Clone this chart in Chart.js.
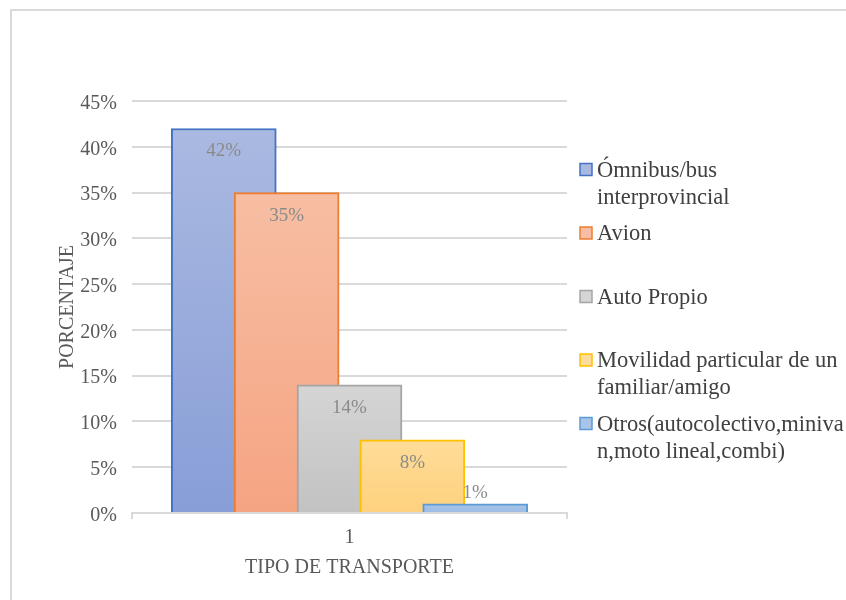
<!DOCTYPE html>
<html lang="es">
<head>
    <meta charset="UTF-8">
    <title>Tipo de transporte</title>
    <script src="https://cdn.jsdelivr.net/npm/chart.js@4/dist/chart.umd.min.js"></script>
    <style>
        body {
            margin: 0;
            background: white;
        }
        .chart-box {
            position: relative;
            width: 846px;
            height: 600px;
        }
    </style>
</head>
<body>
    <div class="chart-box">
        <canvas id="transportChart" width="846" height="600"></canvas>
    </div>

    <script>
        // data
        const categories = [
            ['Ómnibus/bus', 'interprovincial'],
            ['Avion'],
            ['Auto Propio'],
            ['Movilidad particular de un', 'familiar/amigo'],
            ['Otros(autocolectivo,miniva', 'n,moto lineal,combi)']
        ];
        const values = [42, 35, 14, 8, 1];
        const xTickLabels = ['1'];
        const yTitle = 'PORCENTAJE';
        const xTitle = 'TIPO DE TRANSPORTE';

        const serif = '"Liberation Serif", "Times New Roman", serif';
        const borderColors = ['#4472c4', '#ed7d31', '#a5a5a5', '#ffc000', '#5b9bd5'];
        const topColors = ['#aab9e1', '#f7bea3', '#d5d5d5', '#fedc99', '#a8c4e8'];
        const bottomColors = ['#889ed7', '#f5a482', '#c2c2c2', '#fed17d', '#9dbce4'];

        // light at the top of each bar, darker at its base
        function barGradient(i) {
            return function(context) {
                const chart = context.chart;
                if (!chart.chartArea || context.type !== 'data') return topColors[i];
                const y = chart.scales.y;
                const top = y.getPixelForValue(values[i]);
                const base = y.getPixelForValue(0);
                const g = chart.ctx.createLinearGradient(0, top, 0, base);
                g.addColorStop(0, topColors[i]);
                g.addColorStop(1, bottomColors[i]);
                return g;
            };
        }

        // bars overlap, each one shifted one step right of the previous
        const datasets = values.map((v, i) => ({
            label: categories[i].join(' '),
            data: [{ x: i - 2, y: v }],
            backgroundColor: barGradient(i),
            borderColor: borderColors[i],
            borderWidth: 2,
            order: values.length - 1 - i
        }));

        const extras = {
            id: 'extras',
            beforeDraw(chart) {
                const ctx = chart.ctx;
                ctx.save();
                ctx.strokeStyle = '#d9d9d9';
                ctx.lineWidth = 2;
                ctx.beginPath();
                ctx.moveTo(11, 600);
                ctx.lineTo(11, 10);
                ctx.lineTo(846, 10);
                ctx.stroke();
                ctx.restore();
            },
            afterDatasetsDraw(chart) {
                const ctx = chart.ctx;
                const area = chart.chartArea;
                ctx.save();
                // end ticks of the category axis
                ctx.strokeStyle = '#d9d9d9';
                ctx.lineWidth = 2;
                ctx.beginPath();
                ctx.moveTo(area.left, area.bottom);
                ctx.lineTo(area.left, area.bottom + 6);
                ctx.moveTo(area.right, area.bottom);
                ctx.lineTo(area.right, area.bottom + 6);
                ctx.stroke();

                // data labels
                ctx.font = '19px ' + serif;
                ctx.fillStyle = '#8a8a8a';
                ctx.textAlign = 'center';
                ctx.textBaseline = 'middle';
                chart.data.datasets.forEach((ds, i) => {
                    const bar = chart.getDatasetMeta(i).data[0];
                    const h = bar.base - bar.y;
                    const y = h > 30 ? bar.y + 23 : bar.y - 11;
                    ctx.fillText(values[i] + '%', bar.x, y);
                });

                // legend
                ctx.font = '22.5px ' + serif;
                ctx.textAlign = 'left';
                ctx.textBaseline = 'alphabetic';
                categories.forEach((lines, i) => {
                    const cy = 169.5 + i * 63.5;
                    ctx.fillStyle = topColors[i];
                    ctx.fillRect(580, cy - 6, 12, 12);
                    ctx.strokeStyle = borderColors[i];
                    ctx.lineWidth = 1.5;
                    ctx.strokeRect(580, cy - 6, 12, 12);
                    ctx.fillStyle = '#404040';
                    lines.forEach((t, k) => {
                        ctx.fillText(t, 597, cy + 7 + k * 27);
                    });
                });
                ctx.restore();
            }
        };

        new Chart(document.getElementById('transportChart'), {
            type: 'bar',
            data: { datasets: datasets },
            plugins: [extras],
            options: {
                responsive: false,
                animation: false,
                events: [],
                grouped: false,
                barThickness: 105,
                borderSkipped: 'start',
                layout: {
                    padding: { left: 52, top: 101, right: 279, bottom: 16 }
                },
                plugins: {
                    legend: { display: false },
                    tooltip: { enabled: false }
                },
                scales: {
                    x: {
                        type: 'linear',
                        offset: false,
                        min: -3.46,
                        max: 3.46,
                        afterBuildTicks: scale => { scale.ticks = [{ value: 0 }]; },
                        afterFit: scale => { scale.height = 71; },
                        grid: { display: false, drawTicks: false },
                        border: { display: true, color: '#d9d9d9', width: 2 },
                        ticks: {
                            padding: 13,
                            color: '#595959',
                            font: { family: serif, size: 20 },
                            callback: (v, idx) => xTickLabels[idx]
                        },
                        title: {
                            display: true,
                            text: xTitle,
                            color: '#595959',
                            font: { family: serif, size: 20 }
                        }
                    },
                    y: {
                        min: 0,
                        max: 45,
                        afterFit: scale => { scale.width = 80; },
                        grid: { color: '#d9d9d9', lineWidth: 2, drawTicks: false },
                        border: { display: false },
                        ticks: {
                            stepSize: 5,
                            padding: 15,
                            labelOffset: 2.5,
                            color: '#595959',
                            font: { family: serif, size: 20 },
                            callback: v => v + '%'
                        },
                        title: {
                            display: true,
                            text: yTitle,
                            color: '#595959',
                            font: { family: serif, size: 20 }
                        }
                    }
                }
            }
        });
    </script>
</body>
</html>
